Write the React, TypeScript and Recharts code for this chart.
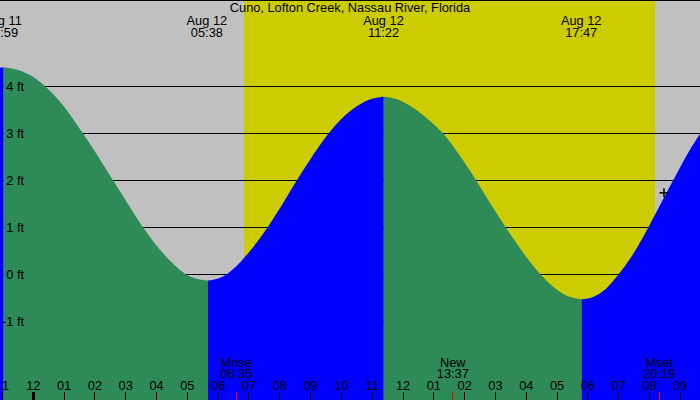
import React from 'react';
import {
  ComposedChart,
  Area,
  XAxis,
  YAxis,
  CartesianGrid,
  ReferenceArea,
  Scatter,
} from 'recharts';

const W = 700;
const H = 400;
const FONT = "'Liberation Sans', Arial, Helvetica, sans-serif";
const FS = 12.8;

const TITLE = 'Cuno, Lofton Creek, Nassau River, Florida';

// x: hours since Aug 12 00:00 ; y: feet
const X_MIN = -1.081;
const X_MAX = 21.639;
const Y_MIN = -2.67;
const Y_MAX = 5.827;

const hourTicks = [-1, 0, 1, 2, 3, 4, 5, 6, 7, 8, 9, 10, 11, 12, 13, 14, 15, 16, 17, 18, 19, 20, 21];
const hourLabels = ['11', '12', '01', '02', '03', '04', '05', '06', '07', '08', '09', '10', '11', '12', '01', '02', '03', '04', '05', '06', '07', '08', '09'];

const ftTicks = [-1, 0, 1, 2, 3, 4];
const ftLabels = ['-1 ft', '0 ft', '1 ft', '2 ft', '3 ft', '4 ft'];

const SUNRISE_HOUR = 6.84;
const SUNSET_HOUR = 20.18;

const tideEventDates = ['Aug 11', 'Aug 12', 'Aug 12', 'Aug 12'];
const tideEventTimes = ['22:59', '05:38', '11:22', '17:47'];

const moonEventNames = ['Mrise', 'New', 'Mset'];
const moonEventTimes = ['06:35', '13:37', '20:19'];

const markerHours = [20.47];
const markerFeet = [1.73];

// tide curve (segments between highs and lows)
const rise0Hours = [-1.081, -0.97];
const rise0Feet = [4.39, 4.4];

const fall1Hours = [-0.97, -0.5, 0, 0.5, 1, 1.5, 2, 2.5, 3, 3.5, 4, 4.5, 5, 5.3, 5.67];
const fall1Feet = [4.4, 4.34, 4.19, 3.92, 3.56, 3.1, 2.61, 2.09, 1.57, 1.06, 0.61, 0.25, -0.02, -0.095, -0.13];

const rise2Hours = [5.67, 6.0, 6.5, 7.0, 7.5, 8.0, 8.5, 9.0, 9.5, 10.0, 10.5, 11.0, 11.37];
const rise2Feet = [-0.13, -0.09, 0.12, 0.47, 0.9, 1.4, 1.94, 2.45, 2.92, 3.3, 3.57, 3.73, 3.77];

const fall3Hours = [11.37, 11.8, 12.3, 12.8, 13.3, 13.8, 14.3, 14.8, 15.3, 15.8, 16.3, 16.8, 17.3, 17.8];
const fall3Feet = [3.77, 3.72, 3.55, 3.3, 2.99, 2.56, 2.07, 1.54, 1.03, 0.55, 0.12, -0.22, -0.45, -0.53];

const rise4Hours = [17.8, 18.2, 18.6, 19.0, 19.4, 19.8, 20.2, 20.6, 21.0, 21.4, 21.639];
const rise4Feet = [-0.53, -0.47, -0.3, 0.0, 0.36, 0.8, 1.29, 1.79, 2.28, 2.74, 2.98];

const segments: { kind: 'fall' | 'rise'; hours: number[]; feet: number[] }[] = [
  { kind: 'rise', hours: rise0Hours, feet: rise0Feet },
  { kind: 'fall', hours: fall1Hours, feet: fall1Feet },
  { kind: 'rise', hours: rise2Hours, feet: rise2Feet },
  { kind: 'fall', hours: fall3Hours, feet: fall3Feet },
  { kind: 'rise', hours: rise4Hours, feet: rise4Feet },
];

type Row = { t: number; fall: number | null; rise: number | null };
const rowMap = new Map<number, Row>();
segments.forEach((s) => {
  s.hours.forEach((h, i) => {
    const r = rowMap.get(h) ?? { t: h, fall: null, rise: null };
    r[s.kind] = s.feet[i];
    rowMap.set(h, r);
  });
});
const tideTable: Row[] = Array.from(rowMap.values()).sort((a, b) => a.t - b.t);

const toHours = (date: string, time: string) => {
  const [hh, mm] = time.split(':').map(Number);
  return hh + mm / 60 + (date === 'Aug 11' ? -24 : 0);
};

const tideEventRows = tideEventDates.map((d, i) => ({
  t: toHours(d, tideEventTimes[i]),
  y: Y_MAX,
  date: d,
  time: tideEventTimes[i],
}));

const moonEventRows = moonEventNames.map((n, i) => ({
  t: toHours('Aug 12', moonEventTimes[i]),
  y: Y_MIN,
  name: n,
  time: moonEventTimes[i],
}));

const markerRows = markerHours.map((h, i) => ({ t: h, y: markerFeet[i] }));

const textStyle = { fontFamily: FONT, fontSize: FS, fill: '#000' };

const HourTick = (props: any) => {
  const { x, payload } = props;
  const idx = hourTicks.indexOf(payload.value);
  const thick = payload.value === 0;
  return (
    <g>
      <text x={x} y={390} textAnchor="middle" {...textStyle}>
        {hourLabels[idx]}
      </text>
      <line
        x1={x}
        x2={x}
        y1={392}
        y2={400}
        stroke="#000"
        strokeWidth={thick ? 3 : 1}
        shapeRendering="crispEdges"
      />
    </g>
  );
};

const FtTick = (props: any) => {
  const { y, payload } = props;
  const idx = ftTicks.indexOf(payload.value);
  return (
    <text x={24} y={y + 4.5} textAnchor="end" {...textStyle}>
      {ftLabels[idx]}
    </text>
  );
};

const TideLabel = (props: any) => {
  const { cx, payload } = props;
  return (
    <g>
      <text x={cx} y={25} textAnchor="middle" {...textStyle}>
        {payload.date}
      </text>
      <text x={cx} y={36.5} textAnchor="middle" {...textStyle}>
        {payload.time}
      </text>
    </g>
  );
};

const MoonLabel = (props: any) => {
  const { cx, payload } = props;
  return (
    <g>
      <text x={cx} y={366.7} textAnchor="middle" {...textStyle}>
        {payload.name}
      </text>
      <text x={cx} y={378} textAnchor="middle" {...textStyle}>
        {payload.time}
      </text>
      <line x1={cx} x2={cx} y1={392} y2={400} stroke="#FF0000" strokeWidth={1} shapeRendering="crispEdges" />
    </g>
  );
};

const CrossMarker = (props: any) => {
  const { cx, cy } = props;
  return (
    <g>
      <line x1={cx - 4.5} x2={cx + 4.5} y1={cy} y2={cy} stroke="#000" strokeWidth={1.5} />
      <line x1={cx} x2={cx} y1={cy - 4.5} y2={cy + 4.5} stroke="#000" strokeWidth={1.5} />
    </g>
  );
};

export default function App() {
  return (
    <div style={{ position: 'relative', width: W, height: H, background: '#C0C0C0', overflow: 'hidden' }}>
      <style>{'body{margin:0;}'}</style>
      <ComposedChart
        width={W}
        height={H}
        data={tideTable}
        margin={{ top: 0, right: 0, bottom: 0, left: 0 }}
      >
        <ReferenceArea
          x1={SUNRISE_HOUR}
          x2={SUNSET_HOUR}
          fill="#CCCC00"
          fillOpacity={1}
          stroke="none"
          zIndex={-200}
        />
        <CartesianGrid vertical={false} stroke="#000" strokeWidth={1} shapeRendering="crispEdges" />
        <Area
          dataKey="fall"
          type="monotone"
          baseValue={Y_MIN}
          fill="#2E8B57"
          fillOpacity={1}
          stroke="none"
          dot={false}
          activeDot={false}
          connectNulls={false}
          isAnimationActive={false}
        />
        <Area
          dataKey="rise"
          type="monotone"
          baseValue={Y_MIN}
          fill="#0000FF"
          fillOpacity={1}
          stroke="none"
          dot={false}
          activeDot={false}
          connectNulls={false}
          isAnimationActive={false}
        />
        <XAxis
          dataKey="t"
          type="number"
          domain={[X_MIN, X_MAX]}
          allowDataOverflow
          ticks={hourTicks}
          interval={0}
          mirror
          height={30}
          axisLine={false}
          tickLine={false}
          tick={<HourTick />}
        />
        <YAxis
          type="number"
          domain={[Y_MIN, Y_MAX]}
          allowDataOverflow
          ticks={ftTicks}
          interval={0}
          mirror
          width={30}
          axisLine={false}
          tickLine={false}
          tick={<FtTick />}
        />
        <Scatter data={tideEventRows} dataKey="y" isAnimationActive={false} shape={(p: any) => <TideLabel {...p} />} />
        <Scatter data={moonEventRows} dataKey="y" isAnimationActive={false} shape={(p: any) => <MoonLabel {...p} />} />
        <Scatter data={markerRows} dataKey="y" isAnimationActive={false} shape={(p: any) => <CrossMarker {...p} />} />
      </ComposedChart>
      <div
        style={{
          position: 'absolute',
          top: 1.1,
          left: 0,
          width: W,
          textAlign: 'center',
          fontFamily: FONT,
          fontSize: FS,
          lineHeight: '14px',
          color: '#000',
          pointerEvents: 'none',
        }}
      >
        {TITLE}
      </div>
    </div>
  );
}
